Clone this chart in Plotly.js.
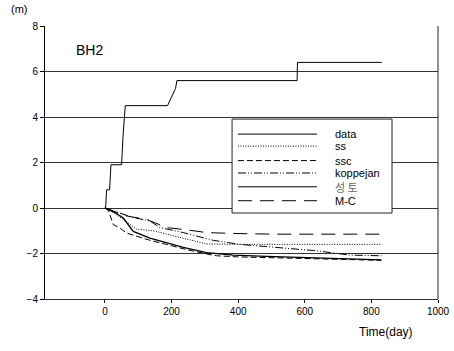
<!DOCTYPE html>
<html><head><meta charset="utf-8">
<script src="https://cdn.plot.ly/plotly-3.0.1.min.js"></script>
<style>html,body{margin:0;padding:0;background:#fff;}#chart{width:454px;height:351px;}</style>
</head><body><div id="chart"></div>
<script>
var dataX = [0, 2, 5, 14, 18, 50, 54, 61, 188, 212, 216, 577, 578, 831];
var dataY = [0, 0, 0.8, 0.8, 1.9, 1.9, 3.1, 4.5, 4.5, 5.26, 5.6, 5.6, 6.4, 6.4];
var ssX = [0, 20, 55, 95, 145, 205, 265, 305, 400, 600, 830];
var ssY = [0, -0.15, -0.5, -0.93, -1.0, -1.23, -1.45, -1.58, -1.6, -1.6, -1.6];
var sscX = [0, 10, 15, 25, 45, 65, 95, 135, 185, 245, 305, 335, 400, 485, 600, 685, 830];
var sscY = [0, -0.1, -0.3, -0.73, -0.88, -1.1, -1.24, -1.42, -1.6, -1.83, -2.02, -2.1, -2.15, -2.18, -2.22, -2.25, -2.3];
var kopX = [0, 40, 85, 135, 150, 165, 235, 325, 405, 535, 635, 735, 830];
var kopY = [0, -0.2, -0.42, -0.57, -0.7, -0.86, -1.08, -1.42, -1.6, -1.74, -1.88, -2.07, -2.1];
var stX = [0, 30, 55, 70, 85, 135, 185, 235, 305, 385, 485, 585, 700, 830];
var stY = [0, -0.2, -0.44, -0.75, -1.03, -1.32, -1.54, -1.73, -1.96, -2.07, -2.13, -2.18, -2.23, -2.28];
var mcX = [0, 30, 65, 125, 185, 245, 305, 385, 500, 830];
var mcY = [0, -0.15, -0.35, -0.5, -0.86, -0.96, -1.08, -1.12, -1.15, -1.15];
var seriesNames = ['data', 'ss', 'ssc', 'koppejan', '성 토', 'M-C'];
var xTicks = [0, 200, 400, 600, 800, 1000];
var yTicks = [-4, -2, 0, 2, 4, 6, 8];

var dashes = ['solid', '1px,1.5px', '6px,3px', '8px,2px,1px,2px,1px,2px', 'solid', '14px,8px'];
var xs = [dataX, ssX, sscX, kopX, stX, mcX];
var ys = [dataY, ssY, sscY, kopY, stY, mcY];
var traces = xs.map(function (x, i) {
  return {x: x, y: ys[i], mode: 'lines', name: seriesNames[i], showlegend: false,
    line: {color: '#000', width: i === 4 ? 1.3 : 1, dash: dashes[i]}};
});

var font = 'Liberation Sans, Arial, sans-serif';
var shapes = [{type: 'rect', xref: 'paper', yref: 'paper', x0: 0.476, x1: 0.883, y0: 0.315, y1: 0.659,
  fillcolor: '#fff', line: {color: '#222', width: 1}, layer: 'above'}];
var annotations = [];
var rowY = [0.604, 0.560, 0.507, 0.4615, 0.411, 0.360];
seriesNames.forEach(function (n, i) {
  shapes.push({type: 'line', xref: 'paper', yref: 'paper', x0: 0.491, x1: 0.692, y0: rowY[i], y1: rowY[i],
    line: {color: '#000', width: 1, dash: dashes[i]}, layer: 'above'});
  annotations.push({xref: 'paper', yref: 'paper', x: 0.733, y: rowY[i], xanchor: 'left', yanchor: 'middle',
    text: n, showarrow: false,
    font: {family: i === 4 ? 'Noto Sans CJK KR' : font, size: 11, color: i === 4 ? '#666' : '#000'}});
});
annotations.push({xref: 'paper', yref: 'paper', x: -0.066, y: 1.033, xanchor: 'center', yanchor: 'bottom',
  text: '(m)', showarrow: false, font: {family: font, size: 11, color: '#000'}});
annotations.push({xref: 'paper', yref: 'paper', x: 0.075, y: 0.913, xanchor: 'left', yanchor: 'middle',
  text: 'BH2', showarrow: false, font: {family: font, size: 14, color: '#000'}});
annotations.push({xref: 'paper', yref: 'paper', x: 0.868, y: -0.121, xanchor: 'center', yanchor: 'middle',
  text: 'Time(day)', showarrow: false, font: {family: font, size: 12, color: '#000'}});

var layout = {
  width: 454, height: 351,
  margin: {l: 45, r: 16, t: 26, b: 52},
  paper_bgcolor: '#fff', plot_bgcolor: '#fff',
  showlegend: false,
  xaxis: {range: [-180, 1000], tickvals: xTicks, ticks: 'outside', ticklen: 3, tickcolor: '#000',
    showgrid: false, zeroline: false, showline: true, linecolor: '#333', linewidth: 1, mirror: false,
    tickfont: {family: font, size: 10, color: '#000'}},
  yaxis: {range: [-4, 8], tickvals: yTicks, ticks: 'outside', ticklen: 4, tickcolor: '#000',
    showgrid: true, gridcolor: '#333', gridwidth: 1, zeroline: false, showline: true, linecolor: '#000',
    linewidth: 1, tickfont: {family: font, size: 10, color: '#000'}},
  shapes: shapes.concat([{type: 'line', xref: 'paper', yref: 'paper', x0: 1, x1: 1, y0: 0, y1: 1,
    line: {color: '#222', width: 1}}]),
  annotations: annotations
};
Plotly.newPlot('chart', traces, layout, {staticPlot: true, displayModeBar: false});
</script></body></html>
